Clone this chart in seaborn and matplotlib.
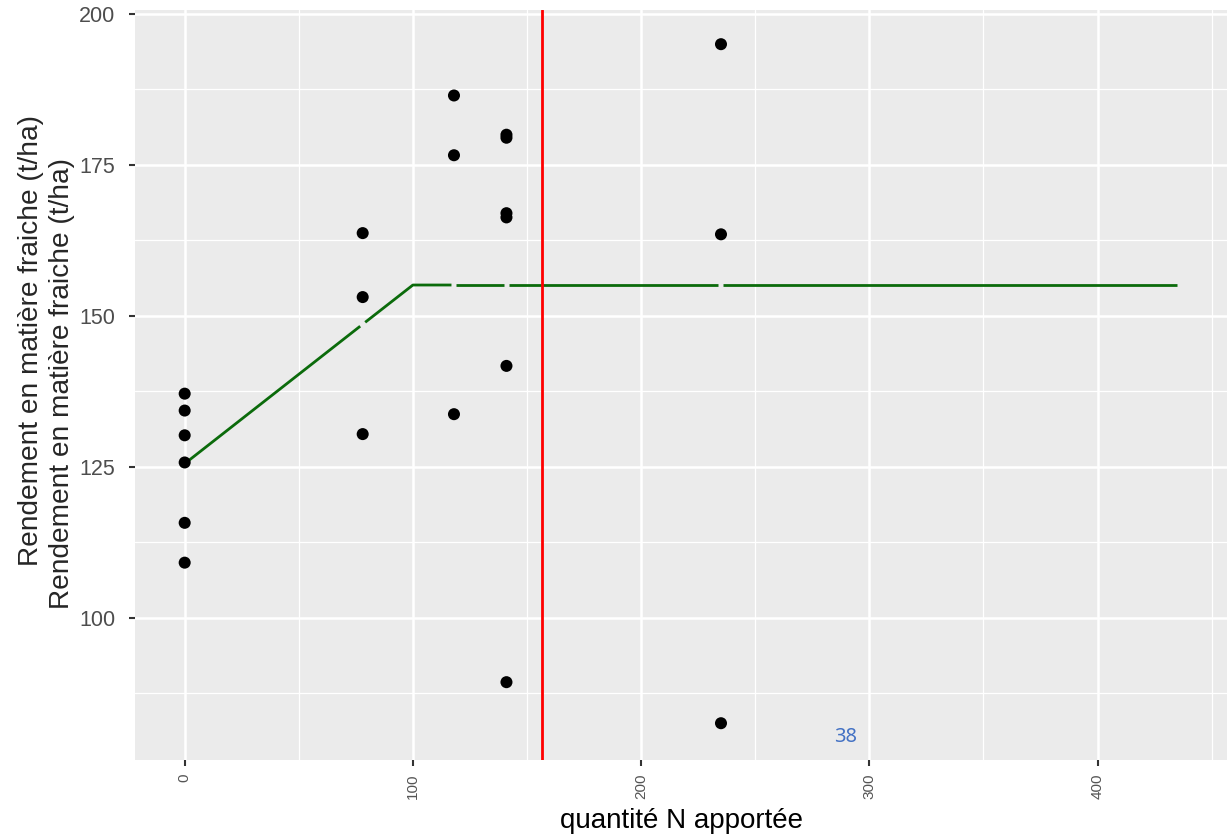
import numpy as np
import pandas as pd
import matplotlib
matplotlib.use("Agg")
import matplotlib.pyplot as plt
import seaborn as sns

# observed yields
dose_n = [0, 0, 0, 0, 0, 0,
          78, 78, 78,
          118, 118, 118,
          141, 141, 141, 141, 141, 141,
          235, 235, 235]
rendement = [137.1, 134.3, 130.2, 125.7, 115.7, 109.1,
             163.7, 153.1, 130.4,
             186.5, 176.6, 133.7,
             180.0, 179.5, 167.0, 166.3, 141.7, 89.3,
             195.0, 163.5, 82.5]

# linear-plateau fit (knots)
fit_x = [0, 78, 100, 118, 141, 235, 435]
fit_y = [125.5, 148.6, 155.1, 155.1, 155.1, 155.1, 155.1]
# places where the drawn line is broken
breaks = [78, 118, 141, 235]

optimum = 156.6
label_txt = "38"

df = pd.DataFrame({"dose": dose_n, "rdt": rendement})

sns.set_theme(style="darkgrid", rc={
    "axes.facecolor": "#EBEBEB",
    "grid.color": "white",
    "axes.edgecolor": "none",
    "xtick.bottom": True,
    "ytick.left": True,
})
plt.rcParams["font.family"] = ["Liberation Sans", "DejaVu Sans"]

fig = plt.figure(figsize=(12.31, 8.4), dpi=100)
ax = fig.add_axes([0.1097, 0.0952, 0.8871, 0.8928])

# fitted line, split at the break points
cuts = [fit_x[0]] + breaks + [fit_x[-1]]
gap = 1.1
for i in range(len(cuts) - 1):
    a, b = cuts[i], cuts[i + 1]
    if i > 0:
        a = a + gap
    if i < len(cuts) - 2:
        b = b - gap
    xs = [a] + [k for k in fit_x if a < k < b] + [b]
    ys = np.interp(xs, fit_x, fit_y)
    ax.plot(xs, ys, color="#0B6B0B", lw=2.0, solid_capstyle="butt", zorder=3)

ax.axvline(optimum, color="#FF0000", lw=2.0, zorder=4)

sns.scatterplot(data=df, x="dose", y="rdt", ax=ax, color="black", s=75,
                edgecolor="none", zorder=5, legend=False)

ax.set_xlim(-21.75, 456.75)
ax.set_ylim(76.4, 200.65)
ax.set_xticks([0, 100, 200, 300, 400])
ax.set_xticks([50, 150, 250, 350, 450], minor=True)
ax.set_yticks([100, 125, 150, 175, 200])
ax.set_yticks([87.5, 112.5, 137.5, 162.5, 187.5], minor=True)
ax.grid(which="major", color="white", lw=1.8)
ax.grid(which="minor", color="white", lw=0.9)
ax.tick_params(axis="both", which="major", length=4, width=1.5, color="#333333")
ax.tick_params(axis="both", which="minor", length=0)
ax.tick_params(axis="x", labelsize=11, labelcolor="#555555", rotation=90, pad=6)
ax.tick_params(axis="y", labelsize=15.5, labelcolor="#4D4D4D", pad=10)

ax.set_xlabel("quantité N apportée", fontsize=20, color="black", labelpad=6)
ax.set_ylabel("")

ylab = "Rendement en matière fraiche (t/ha)"
fig.text(0.0252, 0.595, ylab, rotation=90, ha="center", va="center", fontsize=20.2)
fig.text(0.0505, 0.543, ylab, rotation=90, ha="center", va="center", fontsize=20.2)

ax.text(289.5, 80.2, label_txt, color="#4472C4", fontsize=14.5,
        family=["Noto Sans", "DejaVu Sans"], ha="center", va="center")

fig.savefig("out.png", dpi=100)
